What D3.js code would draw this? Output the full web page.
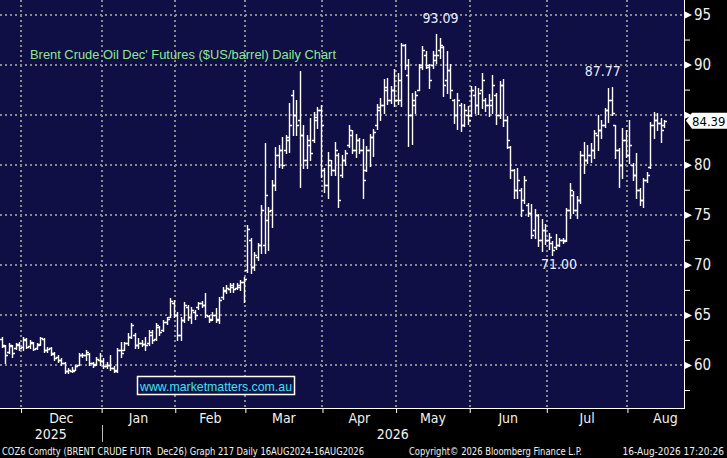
<!DOCTYPE html>
<html>
<head>
<meta charset="utf-8">
<script src="https://cdn.jsdelivr.net/npm/d3@7"></script>
<style>
  html, body { margin: 0; padding: 0; background: #000; }
  svg { display: block; }
  .narrow { font-family: 'Liberation Sans Narrow', 'Arial Narrow', 'DejaVu Sans Condensed', sans-serif; font-stretch: condensed; }
</style>
</head>
<body>
<script>
// Brent crude Dec26 futures, daily OHLC, 21 Nov 2025 - 14 Aug 2026 (bar index = trading day)
const months = ['Dec', 'Jan', 'Feb', 'Mar', 'Apr', 'May', 'Jun', 'Jul', 'Aug'];
const monthStart = [6, 29, 50, 70, 92, 113, 134, 156, 179];
const years = ['2025', '2026'];
const yearStart = [0, 29];
const yTicks = [60, 65, 70, 75, 80, 85, 90, 95];
const yMinor = [57.5, 62.5, 67.5, 72.5, 77.5, 82.5, 87.5, 92.5];

const opens = [
  62.6, 61.9, 61.3, 61.9, 61.7, 62.0,
  61.8, 62.5, 61.9, 62.2, 61.7, 62.1, 62.6, 61.5, 61.7, 61.2, 60.8, 60.5, 60.2, 59.4, 59.4, 59.5, 60.0, 61.0, 61.0, 61.1, 60.2, 60.1, 60.5,
  60.4, 59.9, 60.0, 59.7, 59.5, 61.5, 61.5, 62.2, 62.8, 63.0, 62.0, 62.2, 62.1, 62.2, 63.0, 62.6, 63.8, 63.5, 64.3, 64.8, 66.2,
  65.0, 63.0, 64.5, 65.8, 64.8, 65.3, 65.8, 66.2, 66.0, 64.9, 64.6, 65.0, 64.5, 66.8, 67.4, 67.6, 67.8, 67.7, 67.8, 68.3,
  69.5, 72.5, 69.8, 70.8, 72.0, 72.0, 74.5, 75.5, 78.0, 81.0, 81.5, 81.5, 82.5, 87.0, 85.0, 84.5, 83.0, 80.5, 82.0, 82.5, 84.5, 85.5,
  79.5, 78.0, 80.0, 79.5, 81.0, 79.0, 80.5, 82.0, 83.0, 81.5, 82.5, 81.5, 79.5, 81.5, 82.8, 84.0, 85.5, 86.0, 87.5, 86.5, 87.5,
  86.5, 86.5, 92.0, 89.0, 85.0, 86.0, 87.5, 90.0, 91.0, 89.8, 90.0, 90.5, 91.5, 91.8, 88.5, 89.5, 86.5, 85.0, 86.0, 84.0, 85.0,
  85.0, 87.0, 86.0, 87.5, 86.5, 86.0, 86.0, 87.0, 85.0, 88.0, 84.5, 81.8, 79.5, 77.5, 77.5, 76.5, 76.0, 75.2, 73.5, 75.0, 72.5, 73.5,
  72.5, 72.2, 71.8, 72.0, 72.5, 72.5, 75.5, 77.0, 75.5, 76.5, 81.0, 80.5, 81.0, 81.5, 83.0, 83.5, 84.0, 85.5, 86.5, 84.0, 81.5, 80.0, 82.5,
  81.0, 80.0, 79.0, 77.5, 76.5, 78.5, 79.8, 84.0, 84.5, 84.2, 84.0
];
const highs = [
  62.8, 62.0, 62.2, 62.0, 62.2, 62.3,
  62.8, 62.7, 62.5, 62.3, 62.2, 62.8, 62.7, 61.8, 61.8, 61.3, 61.0, 60.7, 60.3, 59.7, 59.8, 60.0, 61.2, 61.2, 61.5, 61.2, 60.3, 60.8, 61.2,
  60.7, 60.3, 61.0, 59.9, 61.7, 62.3, 62.3, 63.2, 64.2, 63.2, 62.7, 62.5, 62.8, 63.5, 63.5, 64.2, 63.9, 64.5, 64.8, 66.7, 66.5,
  65.3, 64.8, 66.3, 66.0, 65.8, 65.5, 66.3, 66.4, 67.2, 65.0, 65.3, 65.7, 66.8, 67.8, 68.0, 68.2, 68.2, 68.2, 68.5, 68.8,
  74.0, 72.7, 71.3, 72.2, 76.0, 82.2, 75.8, 78.5, 81.8, 82.0, 82.8, 83.0, 86.2, 87.5, 86.5, 89.4, 84.0, 83.0, 84.7, 85.3, 85.8, 86.0,
  79.7, 81.3, 80.5, 82.3, 81.2, 81.0, 81.5, 84.0, 83.5, 83.1, 82.7, 82.6, 81.9, 83.1, 83.6, 86.1, 86.7, 88.6, 88.7, 87.9, 89.6,
  89.2, 92.2, 92.1, 90.6, 87.2, 87.4, 90.1, 91.9, 91.4, 90.1, 91.4, 93.09, 92.7, 91.9, 91.4, 90.1, 86.6, 87.2, 86.2, 86.1, 85.9,
  87.9, 87.9, 87.7, 89.2, 86.7, 87.1, 89.0, 87.2, 88.4, 88.6, 84.9, 81.9, 79.6, 79.7, 77.7, 78.9, 76.2, 76.1, 75.6, 75.1, 74.6, 74.1,
  73.2, 72.4, 73.1, 72.7, 72.7, 75.7, 78.2, 77.4, 76.9, 81.4, 82.3, 82.0, 82.2, 83.5, 85.0, 84.5, 85.7, 87.7, 87.77, 84.0, 81.7, 83.7, 83.5,
  84.5, 80.2, 81.2, 77.7, 78.7, 79.3, 84.3, 85.3, 85.2, 84.7, 84.5
];
const lows = [
  61.8, 60.2, 61.2, 60.8, 61.6, 61.5,
  61.5, 61.7, 61.7, 61.5, 61.6, 62.0, 61.3, 61.3, 61.0, 60.5, 60.3, 60.0, 59.2, 59.2, 59.3, 59.5, 60.0, 60.8, 60.5, 60.0, 59.8, 60.0, 60.0,
  59.7, 59.7, 59.5, 59.3, 59.3, 60.8, 61.5, 62.0, 62.7, 61.7, 61.7, 61.9, 61.5, 62.0, 62.2, 62.5, 63.0, 63.4, 64.1, 64.8, 64.8,
  62.5, 62.5, 64.3, 64.5, 64.2, 64.6, 65.6, 65.8, 64.8, 64.3, 64.5, 64.3, 64.2, 66.6, 67.2, 67.3, 67.3, 67.6, 67.5, 66.3,
  69.3, 69.2, 69.5, 70.5, 71.2, 71.2, 71.5, 73.8, 77.5, 79.8, 79.7, 81.2, 81.3, 83.0, 83.0, 77.8, 79.7, 79.7, 80.5, 82.3, 83.7, 78.8,
  77.3, 76.7, 79.0, 79.0, 75.8, 78.8, 80.0, 81.8, 81.2, 80.8, 81.2, 76.7, 79.4, 79.9, 80.9, 83.6, 84.5, 85.2, 86.1, 86.2, 85.9,
  86.1, 85.9, 89.6, 81.9, 82.1, 85.2, 87.5, 89.6, 89.7, 87.7, 89.7, 90.2, 90.7, 86.9, 87.2, 86.7, 84.2, 83.6, 83.4, 83.9, 84.1,
  84.9, 85.2, 85.1, 85.7, 85.4, 84.9, 85.2, 84.1, 84.7, 83.9, 81.7, 78.7, 76.7, 76.7, 74.9, 76.2, 74.9, 72.7, 72.7, 71.9, 71.4, 72.1,
  71.6, 71.0, 71.6, 71.9, 72.2, 72.4, 74.7, 75.2, 74.7, 76.2, 79.2, 80.2, 80.3, 80.7, 81.5, 82.7, 83.8, 84.3, 85.0, 80.7, 77.8, 78.7, 80.8,
  80.2, 78.5, 76.7, 76.0, 75.8, 78.3, 79.7, 82.7, 83.5, 82.3, 83.8
];
const closes = [
  62.0, 61.0, 62.0, 61.2, 62.1, 61.7,
  62.6, 61.8, 62.3, 61.6, 62.0, 62.7, 61.5, 61.6, 61.1, 60.7, 60.5, 60.2, 59.4, 59.5, 59.4, 59.9, 61.0, 61.0, 61.3, 60.2, 60.0, 60.6, 60.4,
  59.9, 60.0, 59.7, 59.4, 61.5, 61.2, 62.2, 62.8, 64.0, 62.0, 62.2, 62.1, 62.0, 63.3, 62.5, 64.0, 63.3, 64.3, 64.6, 66.4, 65.0,
  63.0, 64.5, 66.0, 64.8, 65.5, 65.0, 66.2, 66.0, 65.0, 64.5, 65.0, 64.6, 66.5, 67.5, 67.7, 68.0, 67.6, 68.0, 68.3, 68.6,
  73.6, 69.8, 71.0, 72.0, 75.5, 77.0, 75.4, 78.0, 81.0, 81.5, 80.0, 82.8, 84.0, 85.0, 84.0, 83.0, 80.5, 82.5, 81.2, 84.8, 85.5, 84.0,
  78.0, 80.5, 79.5, 81.5, 76.5, 80.5, 81.2, 83.5, 81.5, 82.5, 81.5, 78.5, 81.5, 82.8, 83.3, 85.8, 86.0, 87.8, 86.5, 87.5, 86.5,
  88.5, 92.0, 90.0, 85.0, 86.5, 87.0, 89.8, 91.5, 90.0, 88.5, 91.0, 91.0, 92.0, 88.0, 89.5, 87.5, 85.0, 86.5, 84.0, 85.5, 84.5,
  87.5, 86.0, 87.2, 88.5, 86.0, 86.5, 88.0, 85.0, 88.0, 84.5, 82.5, 79.5, 77.5, 78.5, 75.5, 78.5, 75.2, 73.0, 75.0, 72.5, 73.5, 72.5,
  72.8, 71.5, 72.0, 72.5, 72.4, 75.5, 77.5, 75.5, 76.5, 81.0, 80.5, 81.0, 81.5, 83.2, 83.5, 84.0, 85.5, 86.5, 85.2, 81.5, 80.0, 82.5, 81.0,
  82.0, 79.0, 77.5, 76.5, 78.5, 79.0, 84.0, 84.5, 84.2, 83.5, 84.39
];

const width = 727, height = 458;
const plotW = 684, plotH = 408;
const navy = '#0f0e45';
const grid = '#8a8a8a';

const svg = d3.select('body').append('svg')
  .attr('width', width)
  .attr('height', height);

svg.append('rect').attr('width', width).attr('height', height).attr('fill', '#000');
svg.append('rect').attr('width', plotW).attr('height', plotH).attr('fill', navy);

const x = d3.scaleLinear().domain([-0.5, closes.length - 0.5]).range([0, 666]);
const y = d3.scaleLinear().domain([60, 95]).range([365, 14.5]);

const px = v => Math.round(v) + 0.5;

// dotted grid
const gridG = svg.append('g')
  .attr('stroke', grid)
  .attr('stroke-width', 2)
  .attr('stroke-dasharray', '2,3');

gridG.selectAll('line.h')
  .data(yTicks)
  .enter().append('line')
  .attr('x1', 0).attr('x2', plotW)
  .attr('y1', d => Math.round(y(d))).attr('y2', d => Math.round(y(d)));

gridG.selectAll('line.v')
  .data(monthStart)
  .enter().append('line')
  .attr('x1', d => Math.round(x(d - 0.5))).attr('x2', d => Math.round(x(d - 0.5)))
  .attr('y1', 0).attr('y2', plotH);

// OHLC bars
const bars = closes.map((c, i) => ({ i, o: opens[i], h: highs[i], l: lows[i], c }));

svg.append('g')
  .attr('stroke', '#fff')
  .attr('stroke-width', 1.4)
  .attr('fill', 'none')
  .selectAll('path')
  .data(bars)
  .enter().append('path')
  .attr('d', d => {
    const xi = px(x(d.i));
    return `M${xi},${Math.round(y(d.h))}V${Math.round(y(d.l)) + 1}` +
      `M${xi - 2.5},${px(y(d.o))}H${xi}` +
      `M${xi},${px(y(d.c))}H${xi + 2.5}`;
  });

// axes
svg.append('line')
  .attr('x1', plotW + 0.5).attr('x2', plotW + 0.5)
  .attr('y1', 0).attr('y2', plotH + 1)
  .attr('stroke', '#fff');

svg.append('line')
  .attr('x1', 0).attr('x2', plotW + 1)
  .attr('y1', plotH + 0.5).attr('y2', plotH + 0.5)
  .attr('stroke', '#fff');

const lastIdx = closes.length - 1;

const yAxis = svg.append('g')
  .attr('transform', `translate(${plotW + 1},0)`)
  .call(d3.axisRight(y).tickValues(yTicks).tickSize(0).tickPadding(9));

yAxis.select('.domain').remove();
yAxis.selectAll('text')
  .attr('class', 'narrow')
  .attr('fill', '#f2f2f2')
  .attr('font-size', 15);
yAxis.selectAll('.tick').append('path')
  .attr('d', 'M0,-3.5L7,0L0,3.5Z')
  .attr('fill', '#fff');
// the tick label hidden under the last-price flag
yAxis.selectAll('.tick')
  .filter(d => Math.abs(y(d) - y(closes[lastIdx])) < 12)
  .select('text').remove();

const yMinorAxis = svg.append('g')
  .attr('transform', `translate(${plotW + 1},0)`)
  .call(d3.axisRight(y).tickValues(yMinor).tickSize(5).tickFormat(''));
yMinorAxis.select('.domain').remove();
yMinorAxis.selectAll('line').attr('stroke', '#fff');

const xAxis = svg.append('g')
  .attr('transform', `translate(0,${plotH + 1})`)
  .call(d3.axisBottom(x).tickValues(monthStart.map(d => d - 0.5)).tickSize(4).tickFormat(''));
xAxis.select('.domain').remove();
xAxis.selectAll('line').attr('stroke', '#fff');

// month labels, centred in each month
const bounds = monthStart.map(d => x(d - 0.5));
const avgMonth = (bounds[bounds.length - 1] - bounds[0]) / (bounds.length - 1);

svg.append('g')
  .selectAll('text')
  .data(months)
  .enter().append('text')
  .attr('class', 'narrow')
  .attr('x', (d, i) => i < bounds.length - 1 ? (bounds[i] + bounds[i + 1]) / 2 : bounds[i] + avgMonth / 2)
  .attr('y', 423)
  .attr('text-anchor', 'middle')
  .attr('font-size', 14)
  .attr('fill', '#f2f2f2')
  .text(d => d);

const yearBounds = yearStart.map(d => x(d - 0.5));
svg.append('g')
  .selectAll('text')
  .data(years)
  .enter().append('text')
  .attr('class', 'narrow')
  .attr('x', (d, i) => ((i === 0 ? 0 : yearBounds[i]) + (i < years.length - 1 ? yearBounds[i + 1] : plotW)) / 2)
  .attr('y', 439)
  .attr('text-anchor', 'middle')
  .attr('font-size', 14)
  .attr('fill', '#f2f2f2')
  .text(d => d);

svg.append('line')
  .attr('x1', px(yearBounds[1])).attr('x2', px(yearBounds[1]))
  .attr('y1', 425).attr('y2', 442)
  .attr('stroke', '#bbb');

// high / low annotations
const hiIdx = highs.indexOf(d3.max(highs));
const lows2 = lows.slice(130, 170);
const loIdx = 130 + lows2.indexOf(d3.min(lows2));
const hi2Range = highs.slice(165, 180);
const hi2Idx = 165 + hi2Range.indexOf(d3.max(hi2Range));

const notes = [
  { text: highs[hiIdx].toFixed(2), x: x(hiIdx) + 4, y: y(highs[hiIdx]) - 11 },
  { text: highs[hi2Idx].toFixed(2), x: x(hi2Idx) - 9, y: y(highs[hi2Idx]) - 11 },
  { text: lows[loIdx].toFixed(2), x: x(loIdx) + 7, y: y(lows[loIdx]) + 14 }
];

svg.append('g')
  .selectAll('text')
  .data(notes)
  .enter().append('text')
  .attr('class', 'narrow')
  .attr('x', d => d.x)
  .attr('y', d => d.y)
  .attr('text-anchor', 'middle')
  .attr('font-size', 14)
  .attr('fill', '#e6ecff')
  .text(d => d.text);

// last price flag
const yLast = y(closes[lastIdx]);
svg.append('path')
  .attr('d', `M${plotW + 2},${yLast}L${plotW + 8},${yLast - 8}H${width}V${yLast + 8}H${plotW + 8}Z`)
  .attr('fill', '#fff');
svg.append('text')
  .attr('class', 'narrow')
  .attr('x', plotW + 8)
  .attr('y', yLast + 5)
  .attr('font-size', 13)
  .attr('fill', '#000')
  .text(closes[lastIdx].toFixed(2));

// title
svg.append('text')
  .attr('x', 30)
  .attr('y', 59)
  .attr('font-family', 'Liberation Sans, Arial, sans-serif')
  .attr('font-size', 13.5)
  .attr('fill', '#8fe88f')
  .attr('textLength', 306)
  .attr('lengthAdjust', 'spacingAndGlyphs')
  .text("Brent Crude Oil Dec' Futures ($US/barrel) Daily Chart");

// url box
svg.append('rect')
  .attr('x', 137.5).attr('y', 376.5)
  .attr('width', 157).attr('height', 18)
  .attr('fill', navy)
  .attr('stroke', '#fff')
  .attr('stroke-width', 1.5);
svg.append('text')
  .attr('x', 140)
  .attr('y', 391)
  .attr('font-family', 'Liberation Sans, Arial, sans-serif')
  .attr('font-size', 13.5)
  .attr('fill', '#3fe2f2')
  .attr('textLength', 152)
  .attr('lengthAdjust', 'spacingAndGlyphs')
  .text('www.marketmatters.com.au');

// footer
const footer = [
  { text: 'COZ6 Comdty (BRENT CRUDE FUTR  Dec26) Graph 217 Daily 16AUG2024-16AUG2026', x: 2, len: 362, anchor: 'start' },
  { text: 'Copyright\u00A9 2026 Bloomberg Finance L.P.', x: 409, len: 173, anchor: 'start' },
  { text: '16-Aug-2026 17:20:26', x: 724, len: null, anchor: 'end' }
];
svg.append('g')
  .selectAll('text')
  .data(footer)
  .enter().append('text')
  .attr('class', 'narrow')
  .attr('x', d => d.x)
  .attr('y', 455)
  .attr('font-size', 10)
  .attr('fill', '#f2f2f2')
  .attr('text-anchor', d => d.anchor)
  .attr('textLength', d => d.len)
  .attr('lengthAdjust', d => d.len ? 'spacingAndGlyphs' : null)
  .attr('xml:space', 'preserve')
  .text(d => d.text);
</script>
</body>
</html>
